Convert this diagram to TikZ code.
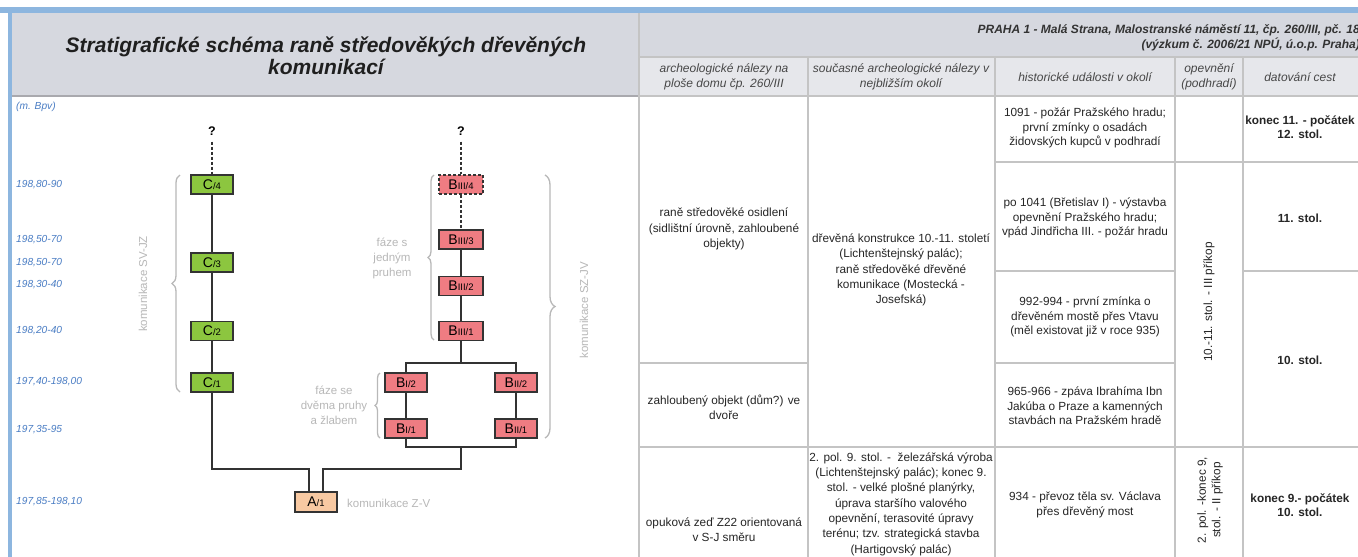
\documentclass[tikz,border=0pt]{standalone}
\usepackage{fontspec}
\setmainfont{Liberation Sans}
\usetikzlibrary{decorations.pathreplacing}
\definecolor{bandblue}{HTML}{8DB6DF}
\definecolor{hdrgray}{HTML}{D6D8DF}
\definecolor{colhdr}{HTML}{E6E7EB}
\definecolor{gridgray}{HTML}{C4C4C4}
\definecolor{hdrline}{HTML}{A9A9AE}
\definecolor{elevblue}{HTML}{4A7DC4}
\definecolor{lblgray}{HTML}{B8B8B8}
\definecolor{cgreen}{HTML}{8CC63F}
\definecolor{bred}{HTML}{EF7C82}
\definecolor{apeach}{HTML}{F8C9A2}
\definecolor{linedark}{HTML}{333333}
\definecolor{txt}{HTML}{262626}
\definecolor{hdrtxt}{HTML}{474747}
\newcommand{\bxl}[2]{{\fontsize{14}{14}\selectfont #1}{\fontsize{9.5}{9.5}\selectfont #2}}
\begin{document}
\begin{tikzpicture}[x=1pt,y=-1pt,
  box/.style={draw=linedark, line width=1.8pt, minimum width=42pt, minimum height=19pt, inner sep=0pt, text=black},
  cbox/.style={box, fill=cgreen},
  bbox/.style={box, fill=bred},
  abox/.style={box, fill=apeach},
  conn/.style={draw=linedark, line width=2pt},
  dconn/.style={draw=linedark, line width=2pt, dash pattern=on 3pt off 2pt},
  brc/.style={draw=lblgray, line width=1.3pt, decorate, decoration={brace, amplitude=#1}},
  grid/.style={draw=gridgray, line width=1.6pt},
  elev/.style={anchor=west, inner sep=0pt, text=elevblue, font=\fontsize{10.2}{12}\selectfont\itshape},
  glbl/.style={inner sep=0pt, text=lblgray, align=center, font=\fontsize{11.5}{15}\selectfont},
  body/.style={inner sep=0pt, text=txt, align=center, font=\fontsize{11.8}{15.3}\selectfont},
  body3/.style={inner sep=0pt, text=txt, align=center, font=\fontsize{11.8}{14.6}\selectfont},
  bodyb/.style={inner sep=0pt, text=txt, align=center, font=\fontsize{11.8}{14.6}\selectfont\bfseries},
  colh/.style={inner sep=0pt, text=hdrtxt, align=center, font=\fontsize{12}{14.5}\selectfont\itshape},
  qm/.style={inner sep=0pt, text=black, font=\fontsize{12.5}{12.5}\selectfont\bfseries}
]
\useasboundingbox (0,0) rectangle (1358,557);
\fill[white] (0,0) rectangle (1358,557);
% frame
\fill[bandblue] (0,7) rectangle (1358,13);
\fill[bandblue] (8,7) rectangle (12,557);
% left header
\fill[hdrgray] (12,13) rectangle (638,96);
\draw[hdrline, line width=1.5pt] (12,96) -- (638,96);
\draw[gridgray, line width=1.2pt] (639,13) -- (639,557);
% right header
\fill[hdrgray] (640,13) rectangle (1358,57);
\fill[colhdr] (640,57) rectangle (1358,96);
\draw[grid] (640,57) -- (1358,57);
\draw[grid] (640,96) -- (1358,96);
% table verticals
\draw[grid] (808,57) -- (808,557);
\draw[grid] (995,57) -- (995,557);
\draw[grid] (1175,57) -- (1175,557);
\draw[grid] (1243,57) -- (1243,557);
% table horizontals
\draw[grid] (640,363) -- (808,363);
\draw[grid] (640,447) -- (1358,447);
\draw[grid] (995,162) -- (1358,162);
\draw[grid] (995,271) -- (1175,271);
\draw[grid] (1243,271) -- (1358,271);
\draw[grid] (995,363) -- (1175,363);

% titles
\node[inner sep=0pt, align=center, text=black!88, font=\fontsize{21}{22.5}\selectfont\bfseries\itshape] (title) at (326,56)
  {Stratigrafické schéma raně středověkých dřevěných\\komunikací};
\node[inner sep=0pt, anchor=east, align=right, text=black!80, font=\fontsize{12}{14.5}\selectfont\bfseries\itshape] (place) at (1360,38)
  {PRAHA 1 - Malá Strana, Malostranské náměstí 11, čp. 260/III, pč. 18\\(výzkum č. 2006/21 NPÚ, ú.o.p. Praha)};

% column headers
\node[colh] (h1) at (724,77) {archeologické nálezy na\\ploše domu čp. 260/III};
\node[colh] (h2) at (901,77) {současné archeologické nálezy v\\nejbližším okolí};
\node[colh] (h3) at (1085,77) {historické události v okolí};
\node[colh] (h4) at (1209,77) {opevnění\\(podhradí)};
\node[colh] (h5) at (1300,77) {datování cest};

% table body
\node[body] (t11) at (724,229) {raně středověké osidlení\\(sidlištní úrovně, zahloubené\\objekty)};
\node[body] (t12) at (724,407) {zahloubený objekt (dům?) ve\\dvoře};
\node[body] (t13) at (724,530) {opuková zeď Z22 orientovaná\\v S-J směru};
\node[body] (t21) at (901,270) {dřevěná konstrukce 10.-11. století\\(Lichtenštejnský palác);\\raně středověké dřevěné\\komunikace (Mostecká -\\Josefská)};
\node[body] (t22) at (901,504) {2. pol. 9. stol. -\ \ železářská výroba\\(Lichtenštejnský palác); konec 9.\\stol. - velké plošné planýrky,\\úprava staršího valového\\opevnění, terasovité úpravy\\terénu; tzv. strategická stavba\\(Hartigovský palác)};
\node[body3] (t31) at (1085,128) {1091 - požár Pražského hradu;\\první zmínky o osadách\\židovských kupců v podhradí};
\node[body3] (t32) at (1085,218) {po 1041 (Břetislav I) - výstavba\\opevnění Pražského hradu;\\vpád Jindřicha III. - požár hradu};
\node[body3] (t33) at (1085,317) {992-994 - první zmínka o\\dřevěném mostě přes Vtavu\\(měl existovat již v roce 935)};
\node[body3] (t34) at (1085,406) {965-966 - zpáva Ibrahíma Ibn\\Jakúba o Praze a kamenných\\stavbách na Pražském hradě};
\node[body3] (t35) at (1085,505) {934 - převoz těla sv. Václava\\přes dřevěný most};
\node[body3, rotate=90] (t41) at (1209,302) {10.-11. stol. - III příkop};
\node[body3, rotate=90] (t42) at (1210,500) {2. pol. -konec 9,\\stol. - II příkop};
\node[bodyb] (t51) at (1300,127) {konec 11. - počátek\\12. stol.};
\node[bodyb] (t52) at (1300,218) {11. stol.};
\node[bodyb] (t53) at (1300,360) {10. stol.};
\node[bodyb] (t54) at (1300,505) {konec 9.- počátek\\10. stol.};

% elevations
\node[elev] (e0) at (16,107) {(m. Bpv)};
\node[elev] (e1) at (16,185) {198,80-90};
\node[elev] (e2) at (16,240) {198,50-70};
\node[elev] (e3) at (16,263) {198,50-70};
\node[elev] (e4) at (16,285) {198,30-40};
\node[elev] (e5) at (16,331) {198,20-40};
\node[elev] (e6) at (16,382) {197,40-198,00};
\node[elev] (e7) at (16,430) {197,35-95};
\node[elev] (e8) at (16,502) {197,85-198,10};

% diagram boxes
\node[cbox] (c4) at (212,184.5) {\bxl{C}{/4}};
\node[cbox] (c3) at (212,262.5) {\bxl{C}{/3}};
\node[cbox] (c2) at (212,331) {\bxl{C}{/2}};
\node[cbox] (c1) at (212,382.5) {\bxl{C}{/1}};
\node[bbox, minimum width=44pt, dash pattern=on 3pt off 2pt] (b34) at (461,184.5) {\bxl{B}{III/4}};
\node[bbox, minimum width=44pt] (b33) at (461,239.5) {\bxl{B}{III/3}};
\node[bbox, minimum width=44pt] (b32) at (461,286) {\bxl{B}{III/2}};
\node[bbox, minimum width=44pt] (b31) at (461,331) {\bxl{B}{III/1}};
\node[bbox] (bI2) at (406,382.5) {\bxl{B}{I/2}};
\node[bbox] (bII2) at (516,382.5) {\bxl{B}{II/2}};
\node[bbox] (bI1) at (406,428.5) {\bxl{B}{I/1}};
\node[bbox] (bII1) at (516,428.5) {\bxl{B}{II/1}};
\node[abox, minimum height=20pt] (a1) at (316,502) {\bxl{A}{/1}};
\node[qm] (qc) at (212,131) {?};
\node[qm] (qb) at (461,131) {?};

% junction coordinates
\coordinate (jt) at (461,363);
\coordinate (jb) at (461,447);
\coordinate (jl) at (461,469);

% connectors
\draw[dconn] ([yshift=-6pt]qc.south) -- (c4.north);
\draw[conn] (c4.south) -- (c3.north);
\draw[conn] (c3.south) -- (c2.north);
\draw[conn] (c2.south) -- (c1.north);
\draw[conn] (c1.south) -- (c1.south |- jl) -| ([xshift=-7pt]a1.north);
\draw[dconn] ([yshift=-6pt]qb.south) -- (b34.north);
\draw[dconn] (b34.south) -- (b33.north);
\draw[conn] (b33.south) -- (b32.north);
\draw[conn] (b32.south) -- (b31.north);
\draw[conn] (b31.south) -- (jt);
\draw[conn] (bI2.north) |- (jt) -| (bII2.north);
\draw[conn] (bI2.south) -- (bI1.north);
\draw[conn] (bII2.south) -- (bII1.north);
\draw[conn] (bI1.south) |- (jb) -| (bII1.south);
\draw[conn] (jb) -- (jl) -| ([xshift=7pt]a1.north);

% braces
\draw[brc=8pt] (180,392) -- (180,175);
\draw[brc=10pt] (545,175) -- (545,438);
\draw[brc=6pt] (434,340) -- (434,175);
\draw[brc=5pt] (380,438) -- (380,373);

% grey labels
\node[glbl, rotate=90] (lsv) at (143,284) {komunikace SV-JZ};
\node[glbl, rotate=90] (lsz) at (584,310) {komunikace SZ-JV};
\node[glbl] (lf1) at (392,258) {fáze s\\jedným\\pruhem};
\node[glbl] (lf2) at (334,405) {fáze se\\dvěma pruhy\\a žlabem};
\node[glbl, anchor=west] (lzv) at (347,503) {komunikace Z-V};
\end{tikzpicture}
\end{document}
